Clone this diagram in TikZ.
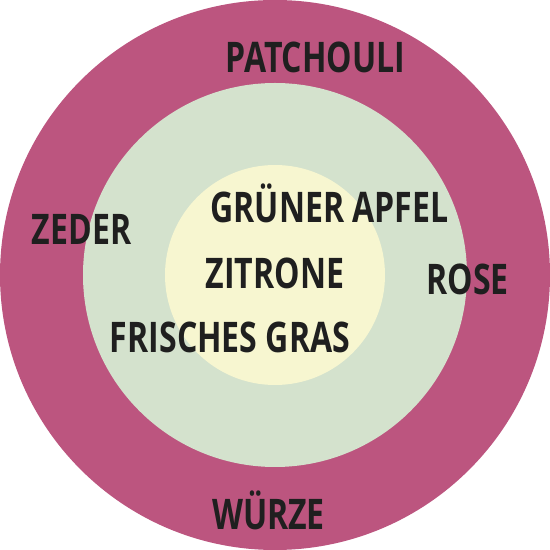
\documentclass[tikz,border=0pt]{standalone}
\usepackage{fontspec}
\setmainfont{Open Sans}[FakeStretch=0.76,BoldFont={Open Sans Bold}]
\usepackage{tikz}

\definecolor{ringaus}{HTML}{BC557F}
\definecolor{ringmitte}{HTML}{D4E2CD}
\definecolor{ringkern}{HTML}{F7F6D0}
\definecolor{schrift}{HTML}{1F1F1F}

\tikzset{duft/.style={anchor=base, inner sep=0pt, text=schrift,
    font=\fontsize{24}{24}\selectfont\bfseries}}

\begin{document}
\begin{tikzpicture}
      \useasboundingbox (0,0) rectangle (11,11);
      % Ringe
      \fill[ringaus] (5.5,5.5) circle (5.5);
      \fill[ringmitte] (5.5,5.5) circle (3.84);
      \fill[ringkern] (5.5,5.5) circle (2.2);
      % Basisnote
      \node[duft] (patchouli) at (6.31,9.54) {PATCHOULI};
      \node[duft] (zeder) at (1.63,6.1) {ZEDER};
      \node[duft] (rose) at (9.35,5.1) {ROSE};
      \node[duft] (wuerze) at (5.37,0.4) {WÜRZE};
      % Herz- und Kopfnote
      \node[duft] (apfel) at (6.59,6.54) {GRÜNER APFEL};
      \node[duft] (zitrone) at (5.5,5.22) {ZITRONE};
      \node[duft] (gras) at (4.6,3.94) {FRISCHES GRAS};
\end{tikzpicture}
\end{document}
